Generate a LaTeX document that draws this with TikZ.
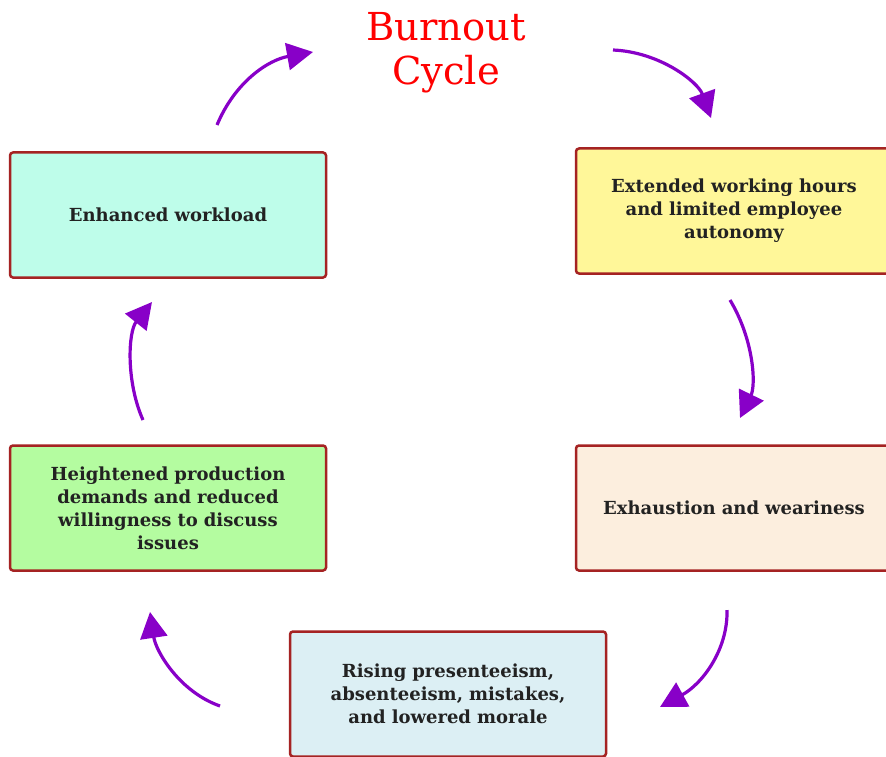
\documentclass[tikz,border=0pt]{standalone}
\usepackage{fontspec}
\setmainfont{DejaVu Serif}
\usetikzlibrary{arrows.meta}
\definecolor{brd}{RGB}{165,35,35}
\definecolor{purp}{RGB}{136,0,200}
\definecolor{txt}{RGB}{34,34,34}
\definecolor{cA}{RGB}{190,253,234}
\definecolor{cB}{RGB}{255,247,153}
\definecolor{cC}{RGB}{252,238,222}
\definecolor{cD}{RGB}{220,239,244}
\definecolor{cE}{RGB}{180,252,160}
\tikzset{
  stepbox/.style={draw=brd, line width=2.5pt, rounded corners=3pt, minimum width=316pt, minimum height=125pt, align=center, text=txt, font=\fontsize{18}{23}\selectfont\bfseries, text width=300pt},
  cyc/.style={draw=purp, line width=3.2pt, -{Triangle[length=26pt,width=27pt]}},
}
\begin{document}
\begin{tikzpicture}[x=1pt,y=-1pt]
\useasboundingbox (0,0) rectangle (886,757);
\clip (0,0) rectangle (886,757);
\fill[white] (0,0) rectangle (886,757);
\node[text=red, align=center, font=\fontsize{38.5}{44}\selectfont] (title) at (446,53) {Burnout\\Cycle};
\node[stepbox, fill=cA] (b1) at (168,215) {Enhanced workload};
\node[stepbox, fill=cB] (b2) at (734,211) {Extended working hours\\and limited employee\\autonomy};
\node[stepbox, fill=cC] (b3) at (734,508) {Exhaustion and weariness};
\node[stepbox, fill=cD] (b4) at (448,694) {Rising presenteeism,\\absenteeism, mistakes,\\and lowered morale};
\node[stepbox, fill=cE] (b5) at (168,508) {Heightened production\\demands and reduced\\willingness to discuss\\issues};
\coordinate (a1s) at (217,125); \coordinate (a1e) at (313,52);
\coordinate (a2s) at (613,50);  \coordinate (a2e) at (711,118);
\coordinate (a3s) at (730,300); \coordinate (a3e) at (740,418);
\coordinate (a4s) at (727,610); \coordinate (a4e) at (660,707);
\coordinate (a5s) at (220,706); \coordinate (a5e) at (150,612);
\coordinate (a6s) at (143,420); \coordinate (a6e) at (152,302);
\draw[cyc] (a1s) .. controls (235,82) and (268,60) .. (a1e);
\draw[cyc] (a2s) .. controls (660,52) and (698,82) .. (a2e);
\draw[cyc] (a3s) .. controls (754,340) and (756,385) .. (a3e);
\draw[cyc] (a4s) .. controls (728,650) and (702,684) .. (a4e);
\draw[cyc] (a5s) .. controls (180,692) and (156,652) .. (a5e);
\draw[cyc] (a6s) .. controls (126,382) and (128,332) .. (a6e);
\end{tikzpicture}
\end{document}
